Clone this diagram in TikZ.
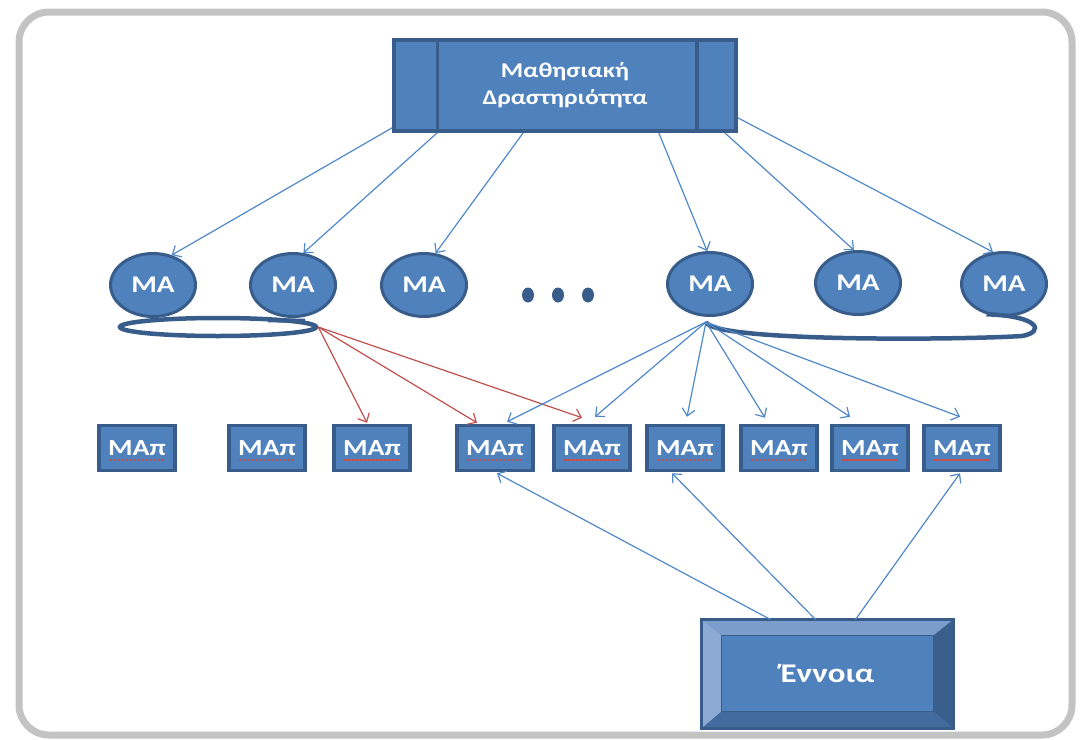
\documentclass[tikz,border=0pt]{standalone}
\usepackage{fontspec}
\setmainfont{Carlito}
\usetikzlibrary{shapes.geometric,arrows.meta,calc}

\definecolor{boxfill}{HTML}{4F81BD}
\definecolor{boxline}{HTML}{385D8A}
\definecolor{linkblue}{HTML}{5088C8}
\definecolor{linkred}{HTML}{C0504D}
\definecolor{framegray}{HTML}{C3C3C3}
\definecolor{bevelleft}{HTML}{8DAAD4}
\definecolor{beveltop}{HTML}{7A9DCB}
\definecolor{bevelright}{HTML}{3A5F8C}
\definecolor{bevelbottom}{HTML}{426B9E}

\newcommand{\wide}[1]{\scalebox{1.22}[1]{#1}}

\tikzset{
  ma/.style={ellipse, draw=boxline, line width=3pt, fill=boxfill, minimum width=85pt,
    minimum height=63pt, inner sep=0pt, text=white, font=\fontsize{24}{28}\selectfont\bfseries},
  mapbox/.style={rectangle, draw=boxline, line width=3.5pt, fill=boxfill, minimum width=76pt,
    minimum height=45pt, inner sep=0pt, text=white, font=\fontsize{23}{28}\selectfont\bfseries},
  link/.style={draw=linkblue, line width=1.2pt, -{Straight Barb[length=7pt,width=13pt]}},
  redlink/.style={link, draw=linkred},
  ring/.style={draw=boxline, line width=4.5pt},
}

\begin{document}
\begin{tikzpicture}[x=1pt,y=-1pt]
\useasboundingbox (0,0) rectangle (1092,739);

% Frame
\draw[framegray, line width=7pt, rounded corners=30pt] (19,12) rectangle (1072,735);

% Learning activity
\node[rectangle, draw=boxline, line width=3.5pt, fill=boxfill, minimum width=342pt,
  minimum height=91pt, text=white, align=center,
  font=\fontsize{21}{27}\selectfont\bfseries] (act) at (565,85.5)
  {\wide{Μαθησιακή}\\\wide{Δραστηριότητα}};
\draw[boxline, line width=3.5pt] ($(act.north west)+(45,0)$) -- ($(act.south west)+(45,0)$);
\draw[boxline, line width=3.5pt] ($(act.north east)+(-41,0)$) -- ($(act.south east)+(-41,0)$);

% MA circles
\foreach \x/\y [count=\i] in {153/285, 293/285, 424/285, 710/284, 858/283, 1004/284}
  \node[ma] (m\i) at (\x,\y) {\wide{MA}};

% Dots
\foreach \x in {528,558,588}
  \fill[boxline] (\x,295) ellipse (6 and 7.5);

% Loops under the circles
\node[ellipse, ring, minimum width=196pt, minimum height=18pt, inner sep=0pt] (ring1) at (218,327) {};
\draw[ring] ($(m2.south)+(-25,2)$) -- ($(m2.south)+(12,3)$);
\coordinate (fan) at (706,322);
\draw[ring] (fan) .. controls (712,342) and (960,340) .. (1022,336)
  .. controls (1045,332) and (1040,316) .. (m6.-120);

% MAp boxes
\foreach \x [count=\i] in {137,267,372,495,592,685,779,870,962}
  \node[mapbox] (p\i) at (\x,448) {\wide{MAπ}};
\foreach \i in {1,...,9}
  \draw[linkred, dash pattern=on 2.5pt off 1.5pt, line width=1.1pt]
    ($(p\i.center)+(-28,12)$) -- ($(p\i.center)+(28,12)$);

% Concept
\node[rectangle, draw=boxline, line width=3pt, fill=boxfill, minimum width=249pt,
  minimum height=106pt] (concept) at (827.5,674) {};
\coordinate (cnw) at (concept.north west);
\coordinate (cne) at (concept.north east);
\coordinate (csw) at (concept.south west);
\coordinate (cse) at (concept.south east);
\coordinate (inw) at ($(cnw)+(20,16)$);
\coordinate (ine) at ($(cne)+(-20,16)$);
\coordinate (isw) at ($(csw)+(20,-17)$);
\coordinate (ise) at ($(cse)+(-20,-17)$);
\fill[beveltop] (cnw) -- (cne) -- (ine) -- (inw) -- cycle;
\fill[bevelleft] (cnw) -- (inw) -- (isw) -- (csw) -- cycle;
\fill[bevelright] (cne) -- (cse) -- (ise) -- (ine) -- cycle;
\fill[bevelbottom] (csw) -- (cse) -- (ise) -- (isw) -- cycle;
\draw[boxline, line width=0.8pt] (inw) rectangle (ise);
\draw[boxline, line width=3pt] (cnw) rectangle (cse);
\node[text=white, font=\fontsize{27}{30}\selectfont\bfseries] (clabel) at (concept.center) {\wide{Έννοια}};

% Activity to circles
\draw[link] ($(act.south west)+(0,-5)$) -- (m1.58);
\draw[link] ($(act.south west)+(45,0)$) -- (m2.72);
\draw[link] ($(act.south west)+(131,0)$) -- (m3.70);
\draw[link] ($(act.south east)+(-79,0)$) -- (m4.95);
\draw[link] ($(act.south east)+(-13,0)$) -- (m5.97);
\draw[link] ($(act.south east)+(0,-15)$) -- (m6.109);

% Red links
\draw[redlink] (ring1.east) -- ($(p3.north)+(-5,-1)$);
\draw[redlink] (ring1.east) -- ($(p4.north)+(-18,-1)$);
\draw[redlink] (ring1.east) -- ($(p5.north)+(-10,-6)$);

% Fan from MA
\draw[link] (fan) -- ($(p4.north)+(12,-2)$);
\draw[link] (fan) -- ($(p5.north)+(3,-7)$);
\draw[link] (fan) -- ($(p6.north)+(2,-7)$);
\draw[link] (fan) -- ($(p7.north)+(-14,-6)$);
\draw[link] (fan) -- ($(p8.north)+(-20,-7)$);
\draw[link] (fan) -- ($(p9.north)+(-2,-7)$);

% Concept to boxes
\draw[link] ($(concept.north)+(-57,0)$) -- ($(p4.south)+(2,1)$);
\draw[link] ($(concept.north)+(-12,0)$) -- ($(p6.south)+(-13,1)$);
\draw[link] ($(concept.north)+(28,0)$) -- ($(p9.south)+(-2,1)$);
\end{tikzpicture}
\end{document}
